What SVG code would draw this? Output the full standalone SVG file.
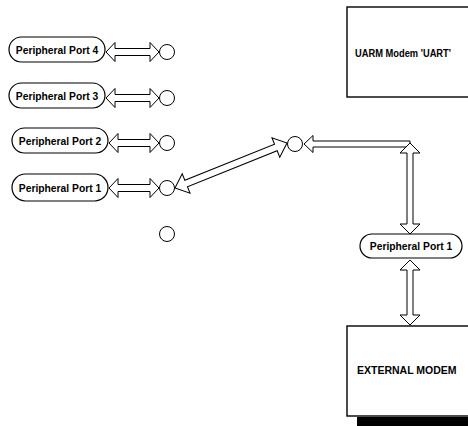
<svg xmlns="http://www.w3.org/2000/svg" width="468" height="426" viewBox="0 0 468 426">
  <style>
    .pill { fill: #fff; stroke: #000; stroke-width: 1.2; }
    .box { fill: #fff; stroke: #000; stroke-width: 1.4; }
    .port { fill: #fff; stroke: #000; stroke-width: 1; }
    .arrow { fill: #fff; stroke: #000; stroke-width: 1; stroke-linejoin: miter; }
    .lbl { font-family: "Liberation Sans", Arial, sans-serif; font-weight: bold; fill: #000; }
  </style>
  <rect width="468" height="426" fill="#fff"/>

  <!-- peripheral port nodes on the left -->
  <g id="pp4">
    <rect class="pill" x="9" y="37" width="96" height="25" rx="12.5"/>
    <text class="lbl" x="57" y="53.5" font-size="10.3" text-anchor="middle">Peripheral Port 4</text>
  </g>
  <g id="pp3">
    <rect class="pill" x="9" y="83" width="96" height="25" rx="12.5"/>
    <text class="lbl" x="57" y="99.5" font-size="10.3" text-anchor="middle">Peripheral Port 3</text>
  </g>
  <g id="pp2">
    <rect class="pill" x="12" y="128" width="96" height="25" rx="12.5"/>
    <text class="lbl" x="60" y="144.5" font-size="10.3" text-anchor="middle">Peripheral Port 2</text>
  </g>
  <g id="pp1">
    <rect class="pill" x="12" y="174" width="96" height="27" rx="13.5"/>
    <text class="lbl" x="60" y="191.5" font-size="10.3" text-anchor="middle">Peripheral Port 1</text>
  </g>

  <!-- UARM modem and external modem blocks -->
  <g id="uarm">
    <rect class="box" x="347" y="7" width="130" height="90"/>
    <text class="lbl" x="355" y="57" font-size="10.5" textLength="96" lengthAdjust="spacingAndGlyphs">UARM Modem 'UART'</text>
  </g>
  <g id="extmodem">
    <rect x="357" y="417" width="120" height="12" fill="#000"/>
    <rect class="box" x="347" y="326" width="130" height="90"/>
    <text class="lbl" x="357" y="374" font-size="10.5">EXTERNAL MODEM</text>
  </g>
  <g id="pp1-ext">
    <rect class="pill" x="360" y="234" width="102" height="24" rx="12"/>
    <text class="lbl" x="411" y="250" font-size="10.3" text-anchor="middle">Peripheral Port 1</text>
  </g>

  <!-- connection points -->
  <g id="points">
    <circle class="port" cx="167" cy="52" r="7.5"/>
    <circle class="port" cx="167" cy="98" r="7.5"/>
    <circle class="port" cx="167" cy="143" r="7.5"/>
    <circle class="port" cx="167" cy="188" r="7.5"/>
    <circle class="port" cx="167" cy="234" r="7.5"/>
    <circle class="port" cx="295" cy="144" r="7.5"/>
  </g>

  <!-- block arrows -->
  <g id="connectors">
    <!-- left port links -->
    <polygon class="arrow" points="106,52 115,42.5 115,48.5 150,48.5 150,42.5 159,52 150,61.5 150,55.5 115,55.5 115,61.5"/>
    <polygon class="arrow" points="106,98 115,88.5 115,94.5 150,94.5 150,88.5 159,98 150,107.5 150,101.5 115,101.5 115,107.5"/>
    <polygon class="arrow" points="109,143 118,133.5 118,139.5 150,139.5 150,133.5 159,143 150,152.5 150,146.5 118,146.5 118,152.5"/>
    <polygon class="arrow" points="109,188 118,178.5 118,184.5 150,184.5 150,178.5 159,188 150,197.5 150,191.5 118,191.5 118,197.5"/>
    <!-- diagonal link -->
    <polygon class="arrow" transform="translate(175,188) rotate(-21.9)" points="0,0 12,-10.5 12,-3.5 108.7,-3.5 108.7,-10.5 120.7,0 108.7,10.5 108.7,3.5 12,3.5 12,10.5"/>
    <!-- horizontal link into the upper right point -->
    <polygon class="arrow" points="304,144 313,135.5 313,141 410,141 410,147 313,147 313,152.5"/>
    <!-- vertical links -->
    <polygon class="arrow" points="410,143 420,153 413,153 413,224 420,224 410,234 400,224 407,224 407,153 400,153"/>
    <polygon class="arrow" points="410,260 420,270 413,270 413,315 420,315 410,325 400,315 407,315 407,270 400,270"/>
  </g>
</svg>
